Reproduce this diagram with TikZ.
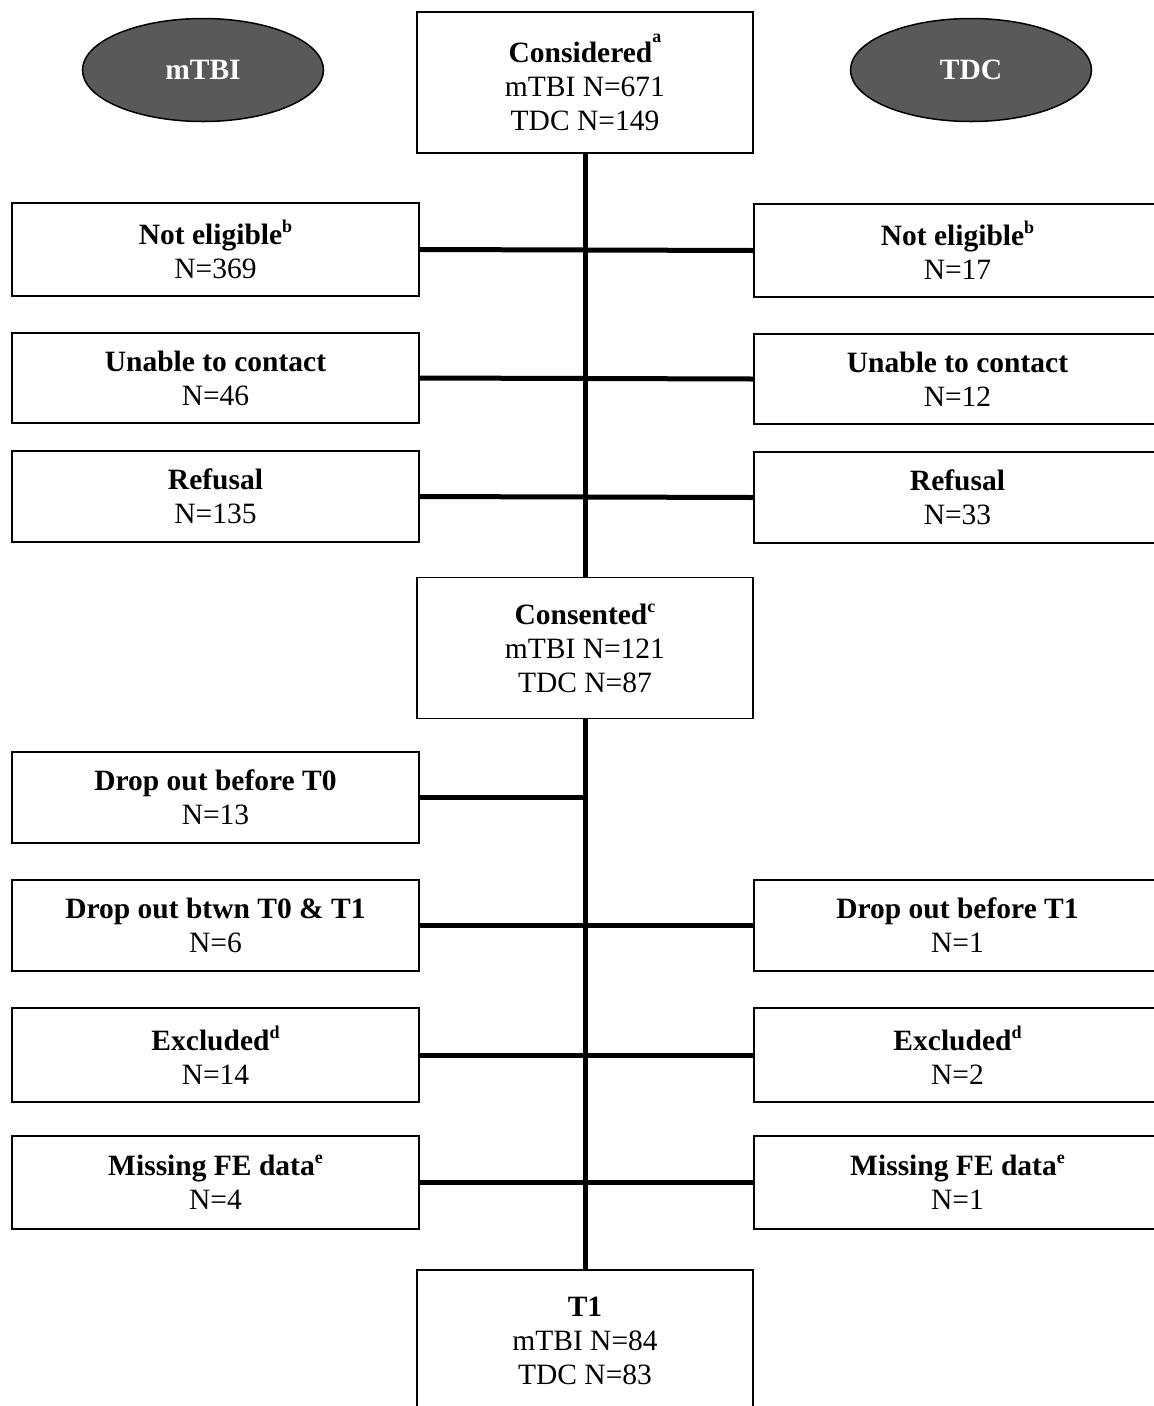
\documentclass[tikz,border=0pt]{standalone}
\usepackage{fontspec}
\setmainfont{Liberation Serif}
\usetikzlibrary{shapes.geometric}
\newcommand{\supx}[1]{\raisebox{0.4em}{\fontsize{18}{18}\selectfont\bfseries #1}}
\newcommand{\supa}[1]{\raisebox{0.7em}{\fontsize{18}{18}\selectfont\bfseries #1}}
\begin{document}
\begin{tikzpicture}[x=1pt,y=-1pt,
  every node/.style={font=\fontsize{29.5}{34}\selectfont, align=center, inner sep=0pt},
  box/.style={draw=black, line width=1.8pt, fill=white, minimum height=92pt},
  sidebox/.style={box, minimum width=407pt},
  midbox/.style={box, minimum width=336pt, minimum height=141pt},
  group/.style={ellipse, draw=black, line width=1.5pt, fill=black!65, text=white,
    font=\fontsize{29.5}{34}\selectfont\bfseries, minimum width=241pt, minimum height=103pt},
  link/.style={line width=5pt}]
\useasboundingbox (0,0) rectangle (1154,1406);

% groups
\node[group] (gm) at (203,70) {mTBI};
\node[group] (gt) at (971,70) {TDC};

% centre column
\node[midbox] (cons) at (585,82.5) {\textbf{Considered}\supa{a}\\mTBI N=671\\TDC N=149};
\node[midbox] (cons2) at (585,648) {\textbf{Consented}\supx{c}\\mTBI N=121\\TDC N=87};
\node[midbox] (t1) at (585,1340.5) {\textbf{T1}\\mTBI N=84\\TDC N=83};

% left column
\node[sidebox, minimum height=93pt] (nel) at (215.5,249.5) {\textbf{Not eligible}\supx{b}\\N=369};
\node[sidebox, minimum height=90pt] (ucl) at (215.5,378) {\textbf{Unable to contact}\\N=46};
\node[sidebox, minimum height=91pt] (rfl) at (215.5,496.5) {\textbf{Refusal}\\N=135};
\node[sidebox, minimum height=91pt] (d0) at (215.5,797.5) {\textbf{Drop out before T0}\\N=13};
\node[sidebox, minimum height=91pt] (d01) at (215.5,925.5) {\textbf{Drop out btwn T0 \& T1}\\N=6};
\node[sidebox, minimum height=94pt] (exl) at (215.5,1055) {\textbf{Excluded}\supx{d}\\N=14};
\node[sidebox, minimum height=93pt] (mfl) at (215.5,1182.5) {\textbf{Missing FE data}\supx{e}\\N=4};

% right column
\node[sidebox, minimum height=93pt] (ner) at (957.5,250.5) {\textbf{Not eligible}\supx{b}\\N=17};
\node[sidebox, minimum height=90pt] (ucr) at (957.5,379) {\textbf{Unable to contact}\\N=12};
\node[sidebox, minimum height=91pt] (rfr) at (957.5,497.5) {\textbf{Refusal}\\N=33};
\node[sidebox, minimum height=91pt] (d1) at (957.5,925.5) {\textbf{Drop out before T1}\\N=1};
\node[sidebox, minimum height=94pt] (exr) at (957.5,1055) {\textbf{Excluded}\supx{d}\\N=2};
\node[sidebox, minimum height=93pt] (mfr) at (957.5,1182.5) {\textbf{Missing FE data}\supx{e}\\N=1};

% connectors
\draw[link] (cons.south) -- (cons2.north);
\draw[link] (cons2.south) -- (t1.north);
\draw[link] (nel.east) -- (ner.west);
\draw[link] (ucl.east) -- (ucr.west);
\draw[link] (rfl.east) -- (rfr.west);
\coordinate (d0j) at (d0.east -| cons2.south);
\draw[link] (d0.east) -- (d0j);
\draw[link] (d01.east) -- (d1.west);
\draw[link] (exl.east) -- (exr.west);
\draw[link] (mfl.east) -- (mfr.west);
\end{tikzpicture}
\end{document}
